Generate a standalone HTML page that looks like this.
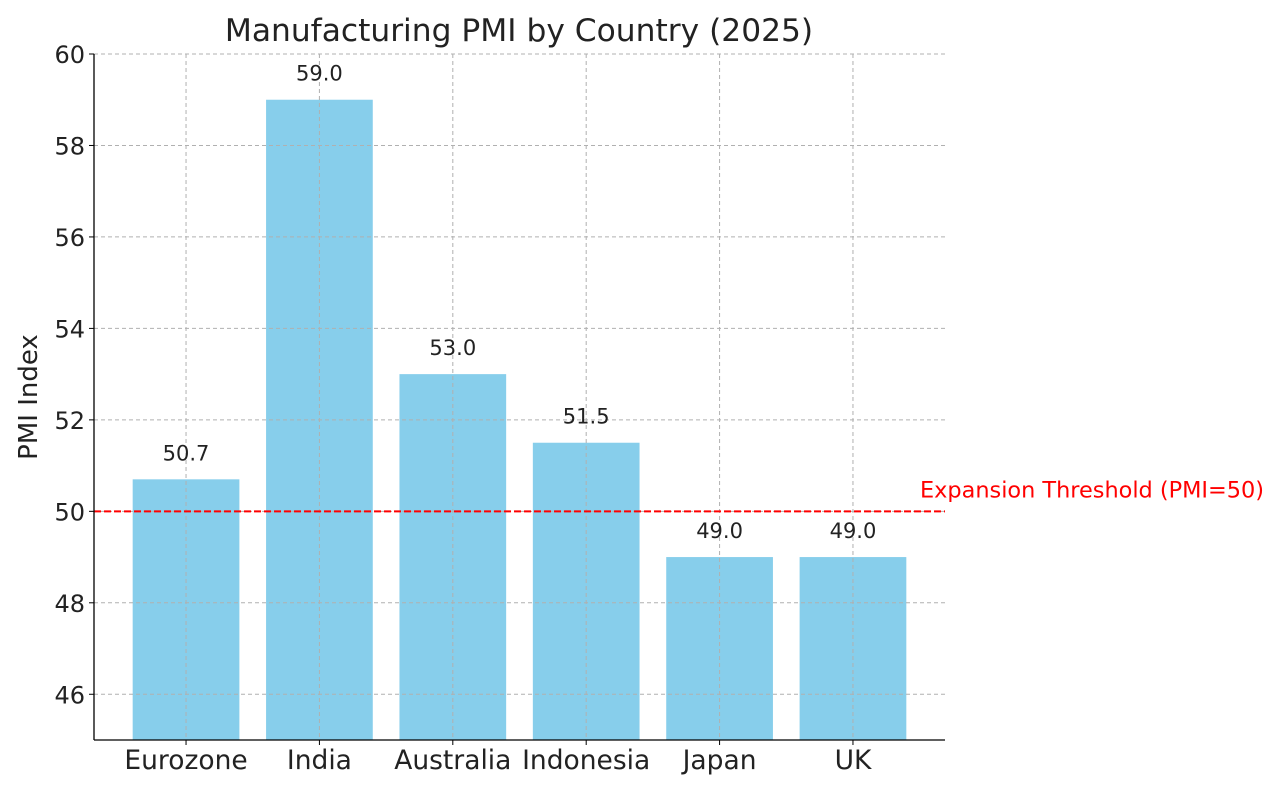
<!DOCTYPE html>
<html><head><meta charset="utf-8"><style>
html,body{margin:0;padding:0;background:#fff;}
svg{display:block;font-family:"DejaVu Sans","Liberation Sans",sans-serif;}
</style></head><body>
<svg id="chart" width="1280" height="791">
<text x="519" y="41" font-size="31.3" fill="#222" text-anchor="middle">Manufacturing PMI by Country (2025)</text>
<text transform="translate(37,397) rotate(-90)" font-size="26" fill="#222" text-anchor="middle">PMI Index</text>
<g id="bars"></g><g id="grid"></g><g id="labels"></g><g id="axes"></g>
</svg>
<script>
const categories = ["Eurozone","India","Australia","Indonesia","Japan","UK"];
const values = [50.7,59.0,53.0,51.5,49.0,49.0];
const yTicks = [46,48,50,52,54,56,58,60];
const threshold = 50;
const NS="http://www.w3.org/2000/svg";
const L=94,R=945,T=54,B=740,yMin=45,yMax=60,xMin=-0.69,xMax=5.69;
const y=v=>B-(v-yMin)/(yMax-yMin)*(B-T);
const x=i=>L+(i-xMin)/(xMax-xMin)*(R-L);
const bw=0.8*(R-L)/(xMax-xMin);
function mk(tag,attrs,parent,text){const e=document.createElementNS(NS,tag);for(const k in attrs)e.setAttribute(k,attrs[k]);if(text!==undefined)e.textContent=text;document.getElementById(parent).appendChild(e);return e;}
yTicks.forEach(t=>{
  const g=mk("line",{x1:L,x2:R,y1:y(t),y2:y(t),stroke:"#b0b0b0","stroke-dasharray":"4,3","stroke-width":1},"grid");
  
  
  const tk=mk("line",{x1:L-5,x2:L,y1:y(t),y2:y(t),stroke:"#000"},"axes");
  
  
  const tl=mk("text",{x:L-9,y:y(t)+9,"font-size":24,fill:"#222","text-anchor":"end"},"axes",t);
  
  
});
categories.forEach((c,i)=>{
  const g=mk("line",{x1:x(i),x2:x(i),y1:T,y2:B,stroke:"#b0b0b0","stroke-dasharray":"4,3","stroke-width":1},"grid");
  
  
  const b=mk("rect",{x:x(i)-bw/2,y:y(values[i]),width:bw,height:B-y(values[i]),fill:"#87ceeb"},"bars");
  
  
  const v=mk("text",{x:x(i),y:y(values[i])-19,"font-size":21,fill:"#222","text-anchor":"middle"},"labels",values[i].toFixed(1));
  
  
  const tk=mk("line",{x1:x(i),x2:x(i),y1:B,y2:B+5,stroke:"#000"},"axes");
  
  
  const cl=mk("text",{x:x(i),y:B+29,"font-size":26.5,fill:"#222","text-anchor":"middle"},"axes",c);
  
  
});
const th=mk("line",{x1:L,x2:R,y1:y(threshold),y2:y(threshold),stroke:"#f00","stroke-width":2,"stroke-dasharray":"7,3"},"axes");


const tt=mk("text",{x:920,y:y(threshold)-14,"font-size":22.4,fill:"#f00"},"axes","Expansion Threshold (PMI="+threshold+")");


const ls=mk("line",{x1:L,x2:L,y1:T,y2:B,stroke:"#000","stroke-width":1.3},"axes");


const bs=mk("line",{x1:L,x2:R,y1:B,y2:B,stroke:"#000","stroke-width":1.3},"axes");


</script>
</body></html>
